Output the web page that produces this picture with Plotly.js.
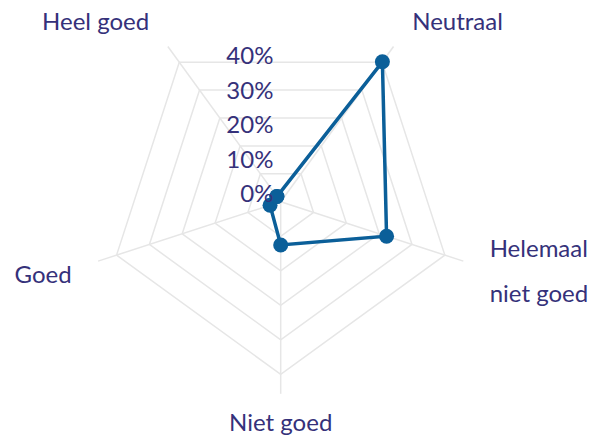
<!DOCTYPE html>
<html>
<head>
<meta charset="utf-8">
<script src="https://cdn.plot.ly/plotly-3.0.1.min.js"></script>
<style>
html,body{margin:0;padding:0;background:#fff;}
#chart{width:598px;height:437px;}
</style>
</head>
<body>
<div id="chart"></div>
<script>
// Data
var categories = ["Heel goed", "Neutraal", "Helemaal niet goed", "Niet goed", "Goed"];
var values = [1.5, 40.1, 25.8, 10.0, 2.6];
var gridTicks = [8, 16, 24, 32, 40];
var labelTicks = [0, 10, 20, 30, 40];
var labelText = ["0%", "10%", "20%", "30%", "40%"];
// label texts shown around the chart, one set per label layer
var outerLabels  = ["Heel goed\u00A0", "\u00A0Neutraal", "", "", "Goed\u00A0"];
var bottomLabels = ["", "", "", "Niet goed", ""];
var line1Labels  = ["", "", "\u00A0Helemaal", "", ""];
var line2Labels  = ["", "", "\u00A0niet goed", "", ""];

var navy = "#35317a";
var blue = "#0b5f99";
var grid = "#e6e6e6";
var fontFam = "Lato, 'Open Sans', sans-serif";
var tf = {family: fontFam, color: navy, size: 24};

var rClosed = values.concat([values[0]]);
var tClosed = categories.concat([categories[0]]);

function ghost(sub) {
  return {
    type: "scatterpolar", subplot: sub,
    r: values, theta: categories, mode: "markers",
    marker: {size: 1, color: "rgba(0,0,0,0)"},
    hoverinfo: "skip", showlegend: false
  };
}

var traces = [
  {
    type: "scatterpolar", subplot: "polar",
    r: rClosed, theta: tClosed,
    mode: "lines+markers",
    line: {color: blue, width: 3.5},
    marker: {color: blue, size: 15},
    hoverinfo: "skip", showlegend: false
  },
  {
    type: "scatterpolar", subplot: "polar2",
    r: [], theta: [], mode: "markers",
    hoverinfo: "skip", showlegend: false
  },
  ghost("polar3"), ghost("polar4"), ghost("polar5")
];

var dom  = {x: [0.1483, 0.7905], y: [0.0989, 0.9776]};
var dom2 = {x: [0.1651, 0.8072], y: [0.1057, 0.9844]};
var dom4 = {x: [0.2186, 0.7202], y: [0.2545, 0.9410]};
var dom5 = {x: [0.1483, 0.7905], y: [0.0554, 0.9341]};

function angAxis(text, tlen, gridOn) {
  return {
    type: "category",
    categoryarray: categories,
    tickmode: "array",
    tickvals: categories,
    ticktext: text,
    rotation: 126,
    direction: "clockwise",
    showline: false,
    showgrid: gridOn,
    gridcolor: grid,
    gridwidth: 1.5,
    ticks: "outside",
    ticklen: tlen,
    tickcolor: "rgba(0,0,0,0)",
    tickfont: tf
  };
}
function labelPolar(domain, text, tlen) {
  return {
    domain: domain,
    bgcolor: "rgba(0,0,0,0)",
    gridshape: "linear",
    radialaxis: {range: [0, 44.5], visible: false, showgrid: false},
    angularaxis: angAxis(text, tlen, false)
  };
}

var layout = {
  width: 598, height: 437,
  margin: {l: 0, r: 0, t: 0, b: 0},
  paper_bgcolor: "#ffffff",
  showlegend: false,
  font: tf,
  polar: {
    domain: dom,
    bgcolor: "rgba(0,0,0,0)",
    gridshape: "linear",
    radialaxis: {
      range: [0, 44.5],
      tickvals: gridTicks,
      showticklabels: false,
      ticks: "",
      showline: false,
      gridcolor: grid,
      gridwidth: 1.5,
      angle: 90
    },
    angularaxis: angAxis(outerLabels, 16, true)
  },
  polar2: {
    domain: dom2,
    bgcolor: "rgba(0,0,0,0)",
    gridshape: "linear",
    radialaxis: {
      range: [-2.55, 53.1],
      tickvals: labelTicks,
      ticktext: labelText,
      showgrid: false, showline: false, ticks: "",
      angle: 90,
      side: "counterclockwise",
      tickfont: tf
    },
    angularaxis: {showgrid: false, showline: false, showticklabels: false, ticks: ""}
  },
  polar3: labelPolar(dom, bottomLabels, 8),
  polar4: labelPolar(dom4, line1Labels, 58),
  polar5: labelPolar(dom5, line2Labels, 16)
};

Plotly.newPlot("chart", traces, layout, {staticPlot: true, displayModeBar: false});
</script>
</body>
</html>
